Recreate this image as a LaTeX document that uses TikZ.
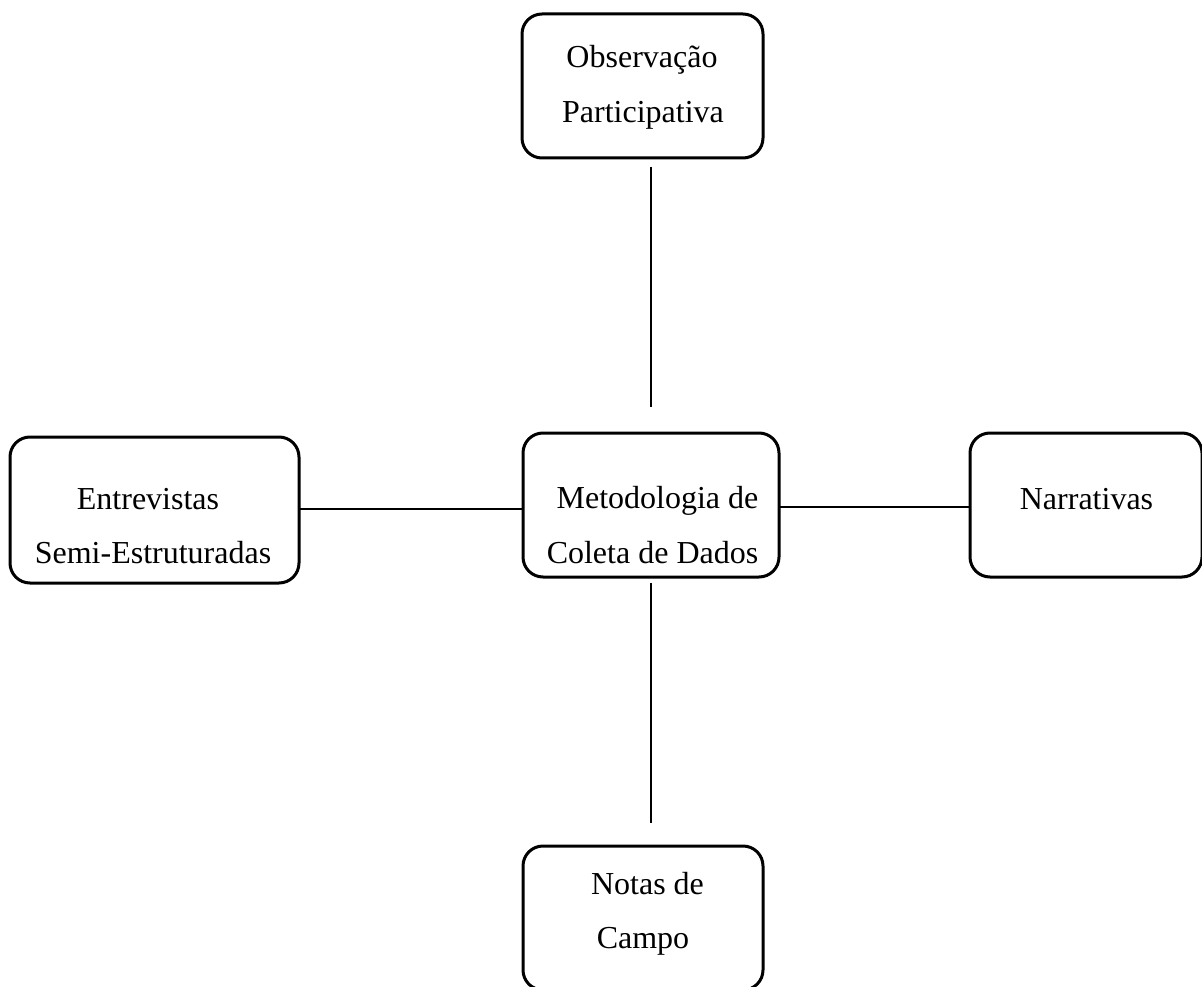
\documentclass[tikz,border=0pt]{standalone}
\usepackage{fontspec}
\setmainfont{Liberation Serif}
\begin{document}
\begin{tikzpicture}[x=1pt,y=-1pt,
  box/.style={draw=black,line width=3pt,rounded corners=20pt,inner sep=0pt,outer sep=0pt},
  lbl/.style={anchor=base,inner sep=0pt,font=\fontsize{32}{38}\selectfont},
  conn/.style={draw=black,line width=1.8pt}]
\useasboundingbox (0,0) rectangle (1202,987);
% boxes
\node[box,minimum width=241pt,minimum height=144pt] (obs) at (642.5,86) {};
\node[box,minimum width=289pt,minimum height=146pt] (ent) at (154.5,510) {};
\node[box,minimum width=256pt,minimum height=144pt] (met) at (651,505) {};
\node[box,minimum width=232pt,minimum height=144pt] (nar) at (1086,505) {};
\node[box,minimum width=240pt,minimum height=144pt] (not) at (643,918) {};
% texts
\node[lbl] (obs1) at (642,68) {Observação};
\node[lbl] (obs2) at (643,123) {Participativa};
\node[lbl] (ent1) at (148,509) {Entrevistas};
\node[lbl] (ent2) at (153,563) {Semi-Estruturadas};
\node[lbl] (met1) at (657.5,508) {Metodologia de};
\node[lbl] (met2) at (652.5,563) {Coleta de Dados};
\node[lbl] (nar1) at (1086.5,509) {Narrativas};
\node[lbl] (not1) at (647.5,894) {Notas de};
\node[lbl] (not2) at (643,948) {Campo};
% connector ends
\coordinate (c1a) at (651,167);
\coordinate (c1b) at (651,407);
\coordinate (c2a) at (651,583);
\coordinate (c2b) at (651,823);
\coordinate (c3a) at (299,509);
\coordinate (c3b) at (523,509);
\coordinate (c4a) at (779,507);
\coordinate (c4b) at (970,507);
\draw[conn] (c1a) -- (c1b);
\draw[conn] (c2a) -- (c2b);
\draw[conn] (c3a) -- (c3b);
\draw[conn] (c4a) -- (c4b);
\end{tikzpicture}
\end{document}
